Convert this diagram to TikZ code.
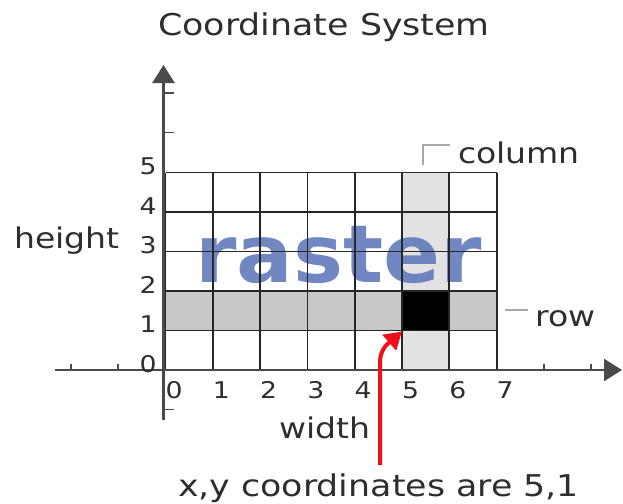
\documentclass[tikz,border=0pt]{standalone}
\usepackage{fontspec}
\setmainfont{DejaVu Sans}
\usepackage{graphicx}
\usetikzlibrary{arrows.meta}
\definecolor{txt}{HTML}{2E2E2E}
\definecolor{rastblue}{RGB}{98,122,188}
\definecolor{rowgray}{HTML}{C8C8C8}
\definecolor{colgray}{HTML}{E2E2E2}
\definecolor{axisgray}{HTML}{4A4A4A}
\definecolor{markgray}{HTML}{A8A8A8}
\definecolor{arrowred}{RGB}{240,16,24}
\newcommand{\wtxt}[2]{\scalebox{1.16}[1]{\fontsize{#1}{#1}\selectfont #2}}
\begin{document}
\begin{tikzpicture}[x=1pt,y=-1pt,
  lbl/.style={inner sep=0pt, text=txt},
  gridline/.style={line width=1.8pt, black!85},
  axisline/.style={line width=2.6pt, axisgray, -{Triangle[width=22pt,length=18pt]}},
  tickline/.style={line width=1.6pt, axisgray},
  markline/.style={line width=1.4pt, markgray},
  pointer/.style={line width=4pt, arrowred, -{Triangle[width=20pt,length=17pt]}}]
\useasboundingbox (0,0) rectangle (623,503);
\fill[white] (0,0) rectangle (623,503);
% fills
\fill[rowgray] (165.5,291) rectangle (496.6,330.5);
\fill[colgray] (402,172.5) rectangle (449.3,370);
\fill[black] (402,291) rectangle (449.3,330.5);
% watermark
\node[inner sep=0pt, anchor=base west, text=rastblue, opacity=0.9] (raster) at (195,282)
  {\scalebox{1.05}[1]{\fontsize{80}{80}\selectfont\bfseries raster}};
% grid
\foreach \i in {0,...,7} \draw[gridline] ({165.5+47.3*\i},172.5) -- ({165.5+47.3*\i},370);
\foreach \j in {1,...,5} \draw[gridline] (165.5,{370-39.5*\j}) -- (496.6,{370-39.5*\j});
% axes
\coordinate (xstart) at (55,370);
\coordinate (xend) at (622,370);
\coordinate (ystart) at (163.5,420);
\coordinate (yend) at (163.5,65);
\draw[axisline] (xstart) -- (xend);
\draw[axisline] (ystart) -- (yend);
\foreach \yy in {93,132.5,409.5} \draw[tickline] (163.5,\yy) -- (174,\yy);
\foreach \xx in {71,118,544,591} \draw[tickline] (\xx,370) -- (\xx,364);
% axis numbers
\foreach \j in {0,...,5} \node[lbl, anchor=base] (y\j) at (148,{372-39.5*\j}) {\wtxt{23}{\j}};
\foreach \i in {0,...,7} \node[lbl, anchor=base] (x\i) at ({174+47.3*\i},398) {\wtxt{23}{\i}};
% labels
\node[lbl, anchor=base] (title) at (324,36) {\wtxt{30}{Coordinate System}};
\node[lbl, anchor=base west] (column) at (458,163) {\wtxt{28.5}{column}};
\node[lbl, anchor=base west] (row) at (535,326) {\wtxt{28.5}{row}};
\node[lbl, anchor=base] (height) at (67,248) {\wtxt{28.5}{height}};
\node[lbl, anchor=base] (width) at (325,438) {\wtxt{28.5}{width}};
\node[lbl, anchor=base] (caption) at (378.5,496) {\wtxt{30}{x,y coordinates are 5,1}};
% marks
\draw[markline] (423,165) -- (423,145) -- (450,145);
\draw[markline] (505,310) -- (528,310);
% pointer
\coordinate (corner) at (402,331.5);
\coordinate (tail) at (380,465);
\draw[pointer] (tail) -- (380,362) .. controls (380,348) and (390,342) .. (corner);
\end{tikzpicture}
\end{document}
